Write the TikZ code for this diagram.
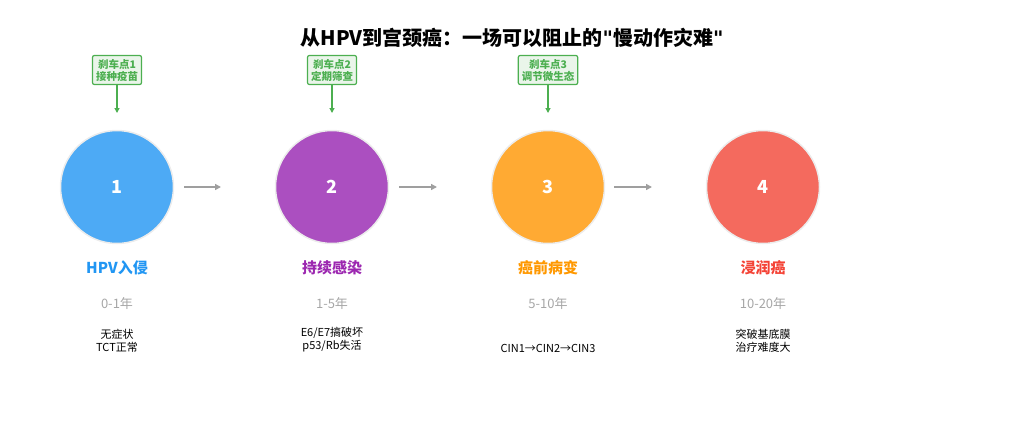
\documentclass[tikz,border=0pt]{standalone}
\usepackage{fontspec}
\setmainfont{Noto Sans CJK SC}
\newfontfamily\latfont{DejaVu Sans}
\usetikzlibrary{arrows.meta,positioning}
\definecolor{cblue}{HTML}{4DAAF5}
\definecolor{tblue}{HTML}{2196F3}
\definecolor{cpurple}{HTML}{AB4FC0}
\definecolor{tpurple}{HTML}{9C27B0}
\definecolor{corange}{HTML}{FFAA33}
\definecolor{torange}{HTML}{FF9800}
\definecolor{cred}{HTML}{F46A5E}
\definecolor{tred}{HTML}{F44336}
\definecolor{bgreen}{HTML}{4CAF50}
\newcommand{\qmark}{{\latfont\bfseries\symbol{34}}}
\tikzset{
  stage/.style={circle,draw=white!85!gray,line width=1.5pt,minimum size=113pt,inner sep=0pt,text=white,font=\fontsize{18}{20}\selectfont\bfseries},
  brake/.style={draw=bgreen,fill=bgreen!12,rounded corners=2pt,line width=1.2pt,text=bgreen,align=center,inner sep=3.5pt,font=\fontsize{10.5}{12}\selectfont\bfseries},
  flow/.style={-{Triangle[length=6pt,width=6pt]},draw=gray!75,line width=2pt},
  down/.style={-{Triangle[length=5pt,width=5pt]},draw=bgreen,line width=1.2pt},
  stagename/.style={font=\fontsize{15}{17}\selectfont\bfseries},
  years/.style={text=gray!70,font=\fontsize{13}{15}\selectfont},
  note/.style={align=center,anchor=south,font=\fontsize{11}{13}\selectfont}
}
\begin{document}
\begin{tikzpicture}[x=1pt,y=1pt,yscale=-1]
\useasboundingbox (0,0) rectangle (1024,447);

\node (title) at (512,38) {\fontsize{20}{24}\selectfont\bfseries 从HPV到宫颈癌：一场可以阻止的\qmark 慢动作灾难\qmark};

% stages
\node[stage,fill=cblue] (s1) at (117,187) {1};
\node[stage,fill=cpurple] (s2) at (332,187) {2};
\node[stage,fill=corange] (s3) at (548,187) {3};
\node[stage,fill=cred] (s4) at (763,187) {4};

\coordinate (a1) at (184,187); \coordinate (b1) at (221,187);
\coordinate (a2) at (399,187); \coordinate (b2) at (437,187);
\coordinate (a3) at (614,187); \coordinate (b3) at (652,187);
\draw[flow] (a1) -- (b1);
\draw[flow] (a2) -- (b2);
\draw[flow] (a3) -- (b3);

% brake points
\node[brake] (k1) at (117,70) {刹车点1\\接种疫苗};
\node[brake] (k2) at (332,70) {刹车点2\\定期筛查};
\node[brake] (k3) at (548,70) {刹车点3\\调节微生态};
\coordinate (t1) at (117,113); \coordinate (t2) at (332,113); \coordinate (t3) at (548,113);
\draw[down] (k1) -- (t1);
\draw[down] (k2) -- (t2);
\draw[down] (k3) -- (t3);

% labels
\node[stagename,text=tblue] (n1) at (117,268) {HPV入侵};
\node[stagename,text=tpurple] (n2) at (332,268) {持续感染};
\node[stagename,text=torange] (n3) at (548,268) {癌前病变};
\node[stagename,text=tred] (n4) at (763,268) {浸润癌};

\node[years] (y1) at (117,304) {0-1年};
\node[years] (y2) at (332,304) {1-5年};
\node[years] (y3) at (548,304) {5-10年};
\node[years] (y4) at (763,304) {10-20年};

\node[note] (d1) at (117,356) {无症状\\TCT正常};
\node[note] (d2) at (332,356) {E6/E7搞破坏\\p53/Rb失活};
\node[note] (d3) at (548,356) {CIN1→CIN2→CIN3};
\node[note] (d4) at (763,356) {突破基底膜\\治疗难度大};
\end{tikzpicture}
\end{document}
